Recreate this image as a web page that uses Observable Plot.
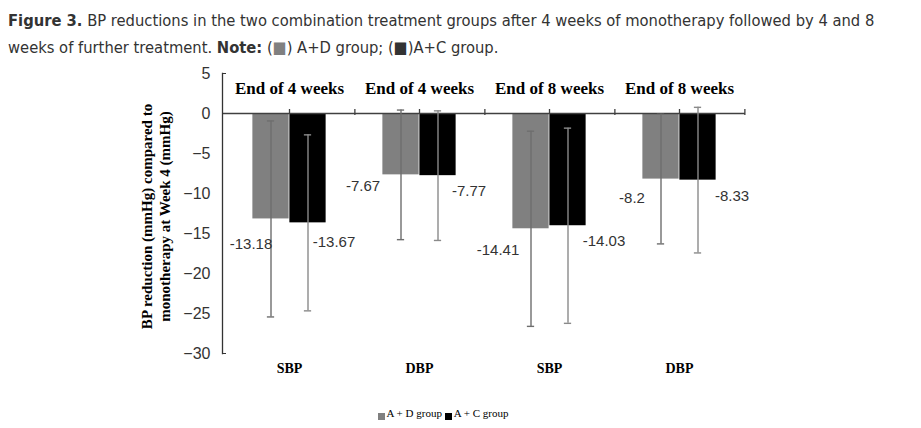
<!DOCTYPE html>
<html><head><meta charset="utf-8">
<script src="https://cdn.jsdelivr.net/npm/d3@7"></script>
<script src="https://cdn.jsdelivr.net/npm/@observablehq/plot@0.6"></script>
<style>
body{margin:0;background:#fff;width:921px;height:428px;overflow:hidden;position:relative;}
#title{position:absolute;left:8px;top:7px;width:912px;white-space:nowrap;font-family:"Liberation Sans Narrow","Arial Narrow","DejaVu Sans Condensed",Arial,sans-serif;font-size:16.4px;color:#333;line-height:27px;}
#title b{font-weight:bold;}
#chart{position:absolute;left:0;top:60px;}
#legend{position:absolute;top:407px;left:0;width:886px;text-align:center;font-family:"Liberation Serif","Times New Roman",serif;font-size:11px;color:#000;}
#legend .sw{display:inline-block;width:7px;height:7px;margin-right:2px;vertical-align:-3px;}
</style></head><body>
<div id="title"><b>Figure 3.</b> BP reductions in the two combination treatment groups after 4 weeks of monotherapy followed by 4 and 8<br>weeks of further treatment. <b>Note:</b> (<span style="color:#808080">■</span>) A+D group; (■)A+C group.</div>
<div id="chart"></div>
<div id="legend"><span class="sw" style="background:#808080"></span>A + D group <span class="sw" style="background:#000"></span>A + C group</div>
<script>
// ---- data ----
const categories = ["SBP4", "DBP4", "SBP8", "DBP8"];
const categoryLabels = ["SBP", "DBP", "SBP", "DBP"];
const periodLabels = ["End of 4 weeks", "End of 4 weeks", "End of 8 weeks", "End of 8 weeks"];
const groups = ["A+D group", "A+C group"];
const adValues = [-13.18, -7.67, -14.41, -8.2];
const acValues = [-13.67, -7.77, -14.03, -8.33];
const adSD = [12.25, 8.1, 12.2, 8.1];
const acSD = [11.0, 8.1, 12.2, 9.1];
const yTicks = [5, 0, -5, -10, -15, -20, -25, -30];
const yLabel = "BP reduction (mmHg) compared to\nmonotherapy at Week 4 (mmHg)";

// ---- layout / style (not data) ----
const adLabelNudge = [[-20, 25], [-38, 11], [-33, 21], [-29, 19]];
const acLabelNudge = [[26, 19], [31, 16], [36, 15], [34, 16]];
const W = 921, H = 340, ML = 222, MR = 176, MT = 13, MB = 47;
const band = (W - ML - MR) / categories.length;
const barW = 37;
const off = barW / 2;
const inset = (band - barW) / 2;
const capInset = (band - 8) / 2;

const rows = (vals, sds, g) => categories.map((c, i) => ({cat: c, value: vals[i], sd: sds[i], group: g, i}));
const ad = rows(adValues, adSD, groups[0]);
const ac = rows(acValues, acSD, groups[1]);
const labelOf = Object.fromEntries(categories.map((c, i) => [c, categoryLabels[i]]));
const fmtTick = d => d < 0 ? "\u2212" + Math.abs(d) : String(d);

const serif = "'Liberation Serif','Times New Roman',serif";
const sans = "'Liberation Sans',Arial,sans-serif";
const errColor = "#6e6e6e";

const marks = [
  Plot.barY(ad, {x: "cat", y: "value", fill: "#808080", insetLeft: inset, insetRight: inset, dx: -off}),
  Plot.barY(ac, {x: "cat", y: "value", fill: "#000", insetLeft: inset, insetRight: inset, dx: off}),
  Plot.ruleY([0], {stroke: "#404040", strokeWidth: 1.5}),
  Plot.ruleX(categories, {x: d => d, y1: 0, y2: 0, insetTop: -4, stroke: "#404040", strokeWidth: 1.3}),
  Plot.ruleX(categories, {x: d => d, y1: 0, y2: 0, insetTop: -4, insetBottom: -2, dx: band / 2, stroke: "#404040", strokeWidth: 1.3}),
  Plot.ruleX(ad, {x: "cat", y1: d => d.value - d.sd, y2: d => d.value + d.sd, dx: -off, stroke: errColor, strokeWidth: 1.4}),
  Plot.ruleX(ac, {x: "cat", y1: d => d.value - d.sd, y2: d => d.value + d.sd, dx: off, stroke: "#8a8a8a", strokeWidth: 1.4}),
  Plot.tickY(ad, {x: "cat", y: d => d.value - d.sd, dx: -off, insetLeft: capInset, insetRight: capInset, stroke: errColor, strokeWidth: 1.4}),
  Plot.tickY(ad, {x: "cat", y: d => d.value + d.sd, dx: -off, insetLeft: capInset, insetRight: capInset, stroke: errColor, strokeWidth: 1.4}),
  Plot.tickY(ac, {x: "cat", y: d => d.value - d.sd, dx: off, insetLeft: capInset, insetRight: capInset, stroke: "#8a8a8a", strokeWidth: 1.4}),
  Plot.tickY(ac, {x: "cat", y: d => d.value + d.sd, dx: off, insetLeft: capInset, insetRight: capInset, stroke: "#8a8a8a", strokeWidth: 1.4}),
  Plot.frame({anchor: "left", stroke: "#333", strokeWidth: 1.3}),
  Plot.axisY(yTicks, {tickSize: 0, tickPadding: 12, tickFormat: fmtTick, fontSize: 16, fontFamily: sans, fill: "#333", label: null}),
  Plot.axisY([5, -30], {tickSize: -4, tickFormat: () => "", stroke: "#333", label: null}),
  Plot.axisX({tickSize: 0, tickPadding: 10, tickFormat: d => labelOf[d], fontSize: 14, fontWeight: "bold", fontFamily: serif, fill: "#000", label: null}),
  Plot.text(categories, {x: d => d, text: (d, i) => periodLabels[i], frameAnchor: "top", lineAnchor: "middle", dy: 15, fontSize: 17, fontWeight: "bold", fontFamily: serif, fill: "#000"}),
  Plot.text([yLabel], {text: d => d, frameAnchor: "left", textAnchor: "middle", lineAnchor: "middle", rotate: -90, dx: -67, dy: 3, lineHeight: 1.2, fontSize: 15, fontWeight: "bold", fontFamily: serif, fill: "#000"})
];
ad.forEach((d, i) => marks.push(Plot.text([d], {x: "cat", y: "value", text: r => String(r.value), dx: -off + adLabelNudge[i][0], dy: adLabelNudge[i][1], fontSize: 15, fontFamily: sans, fill: "#333"})));
ac.forEach((d, i) => marks.push(Plot.text([d], {x: "cat", y: "value", text: r => String(r.value), dx: off + acLabelNudge[i][0], dy: acLabelNudge[i][1], fontSize: 15, fontFamily: sans, fill: "#333"})));

const chart = Plot.plot({
  width: W, height: H,
  marginLeft: ML, marginRight: MR, marginTop: MT, marginBottom: MB,
  x: {domain: categories, padding: 0, axis: null},
  y: {domain: [-30, 5], axis: null},
  style: {background: "#fff", overflow: "visible"},
  marks
});
document.getElementById("chart").appendChild(chart);
</script>
</body></html>
